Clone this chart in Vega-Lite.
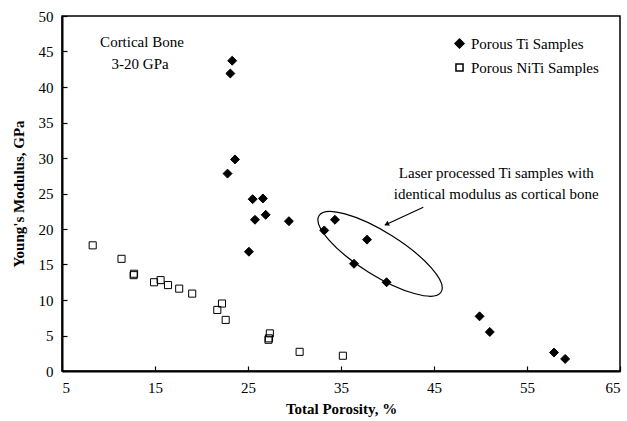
{
  "$schema": "https://vega.github.io/schema/vega-lite/v6.json",
  "width": 558,
  "height": 355,
  "autosize": {"type": "none"},
  "padding": {"left": 62, "top": 16, "right": 7, "bottom": 50},
  "background": "white",
  "config": {
    "view": {"stroke": "black", "strokeWidth": 1.5},
    "font": "Liberation Serif",
    "legend": {"orient": "none", "legendX": 390, "legendY": 20, "title": null, "labelFont": "Liberation Serif", "labelFontSize": 15, "labelColor": "black", "rowPadding": 8, "labelOffset": 4}
  },
  "encoding": {
    "x": {
      "field": "x", "type": "quantitative",
      "scale": {"domain": [5, 65], "nice": false, "zero": false},
      "axis": {
        "title": "Total Porosity, %", "values": [5, 15, 25, 35, 45, 55, 65],
        "grid": false, "domainColor": "black", "domainWidth": 2,
        "tickColor": "black", "tickSize": -5, "tickWidth": 1.2,
        "labelPadding": 14, "labelFont": "Liberation Serif", "labelFontSize": 15, "labelColor": "black",
        "titleFont": "Liberation Serif", "titleFontSize": 15, "titleFontWeight": "bold", "titleColor": "black", "titlePadding": 6
      }
    },
    "y": {
      "field": "y", "type": "quantitative",
      "scale": {"domain": [0, 50], "nice": false},
      "axis": {
        "title": "Young's Modulus, GPa", "values": [0, 5, 10, 15, 20, 25, 30, 35, 40, 45, 50],
        "grid": false, "domainColor": "black", "domainWidth": 2,
        "tickColor": "black", "tickSize": -5, "tickWidth": 1.2,
        "labelPadding": 14, "labelFont": "Liberation Serif", "labelFontSize": 15, "labelColor": "black",
        "titleFont": "Liberation Serif", "titleFontSize": 15, "titleFontWeight": "bold", "titleColor": "black", "titlePadding": 12
      }
    }
  },
  "layer": [
    {
      "data": {"values": [
        {"series": "Porous Ti Samples", "x": 23.3, "y": 43.7},
        {"series": "Porous Ti Samples", "x": 23.1, "y": 41.9},
        {"series": "Porous Ti Samples", "x": 23.6, "y": 29.8},
        {"series": "Porous Ti Samples", "x": 22.8, "y": 27.8},
        {"series": "Porous Ti Samples", "x": 25.5, "y": 24.2},
        {"series": "Porous Ti Samples", "x": 26.6, "y": 24.3},
        {"series": "Porous Ti Samples", "x": 25.75, "y": 21.3},
        {"series": "Porous Ti Samples", "x": 26.9, "y": 22.0},
        {"series": "Porous Ti Samples", "x": 29.4, "y": 21.1},
        {"series": "Porous Ti Samples", "x": 25.1, "y": 16.8},
        {"series": "Porous Ti Samples", "x": 33.2, "y": 19.8},
        {"series": "Porous Ti Samples", "x": 34.35, "y": 21.3},
        {"series": "Porous Ti Samples", "x": 36.4, "y": 15.1},
        {"series": "Porous Ti Samples", "x": 37.8, "y": 18.5},
        {"series": "Porous Ti Samples", "x": 39.9, "y": 12.5},
        {"series": "Porous Ti Samples", "x": 49.9, "y": 7.7},
        {"series": "Porous Ti Samples", "x": 51.0, "y": 5.5},
        {"series": "Porous Ti Samples", "x": 57.9, "y": 2.6},
        {"series": "Porous Ti Samples", "x": 59.1, "y": 1.7},
        {"series": "Porous NiTi Samples", "x": 8.3, "y": 17.7},
        {"series": "Porous NiTi Samples", "x": 11.4, "y": 15.8},
        {"series": "Porous NiTi Samples", "x": 12.7, "y": 13.5},
        {"series": "Porous NiTi Samples", "x": 12.75, "y": 13.7},
        {"series": "Porous NiTi Samples", "x": 14.9, "y": 12.5},
        {"series": "Porous NiTi Samples", "x": 15.6, "y": 12.8},
        {"series": "Porous NiTi Samples", "x": 16.4, "y": 12.1},
        {"series": "Porous NiTi Samples", "x": 17.6, "y": 11.6},
        {"series": "Porous NiTi Samples", "x": 19.0, "y": 10.9},
        {"series": "Porous NiTi Samples", "x": 21.7, "y": 8.6},
        {"series": "Porous NiTi Samples", "x": 22.2, "y": 9.5},
        {"series": "Porous NiTi Samples", "x": 22.6, "y": 7.2},
        {"series": "Porous NiTi Samples", "x": 27.35, "y": 5.3},
        {"series": "Porous NiTi Samples", "x": 27.2, "y": 4.4},
        {"series": "Porous NiTi Samples", "x": 27.25, "y": 4.6},
        {"series": "Porous NiTi Samples", "x": 30.55, "y": 2.7},
        {"series": "Porous NiTi Samples", "x": 35.2, "y": 2.15}
      ]},
      "mark": {"type": "point", "filled": true, "stroke": "black", "strokeWidth": 1, "opacity": 1},
      "encoding": {
        "shape": {
          "field": "series", "type": "nominal",
          "scale": {"domain": ["Porous Ti Samples", "Porous NiTi Samples"], "range": ["diamond", "square"]},
          "legend": {"encode": {"symbols": {"update": {"stroke": {"value": "black"}, "strokeWidth": {"value": 1}}}}}
        },
        "fill": {
          "field": "series", "type": "nominal",
          "scale": {"domain": ["Porous Ti Samples", "Porous NiTi Samples"], "range": ["black", "transparent"]},
          "legend": {"encode": {"symbols": {"update": {"stroke": {"value": "black"}, "strokeWidth": {"value": 1}}}}}
        },
        "size": {
          "field": "series", "type": "nominal",
          "scale": {"domain": ["Porous Ti Samples", "Porous NiTi Samples"], "range": [80, 50]},
          "legend": {"encode": {"symbols": {"update": {"stroke": {"value": "black"}, "strokeWidth": {"value": 1}}}}}
        }
      }
    },
    {
      "data": {"values": [
        {"text": "Cortical Bone", "x": 13.6, "y": 46.3},
        {"text": "3-20 GPa", "x": 13.4, "y": 43.3},
        {"text": "Laser processed Ti samples with", "x": 51.7, "y": 27.9},
        {"text": "identical modulus as cortical bone", "x": 51.7, "y": 25.0}
      ]},
      "mark": {"type": "text", "font": "Liberation Serif", "fontSize": 15, "align": "center", "baseline": "middle", "color": "black"},
      "encoding": {"text": {"field": "text"}}
    },
    {
      "data": {"values": [{"x": 39.2, "y": 16.5}]},
      "mark": {"type": "point", "shape": "M -1 0 A 1 0.3 0 1 0 1 0 A 1 0.3 0 1 0 -1 0 Z", "size": 20736, "angle": 32, "filled": false, "stroke": "black", "strokeWidth": 1.2, "opacity": 1}
    },
    {
      "data": {"values": [{"x": 43.85, "y": 23.06, "x2": 39.73, "y2": 20.56}]},
      "mark": {"type": "rule", "color": "black", "strokeWidth": 1.2},
      "encoding": {"x2": {"field": "x2"}, "y2": {"field": "y2"}}
    },
    {
      "data": {"values": [{"x": 39.9, "y": 20.66}]},
      "mark": {"type": "point", "shape": "triangle-right", "size": 30, "angle": 155, "filled": true, "color": "black", "opacity": 1}
    }
  ]
}
